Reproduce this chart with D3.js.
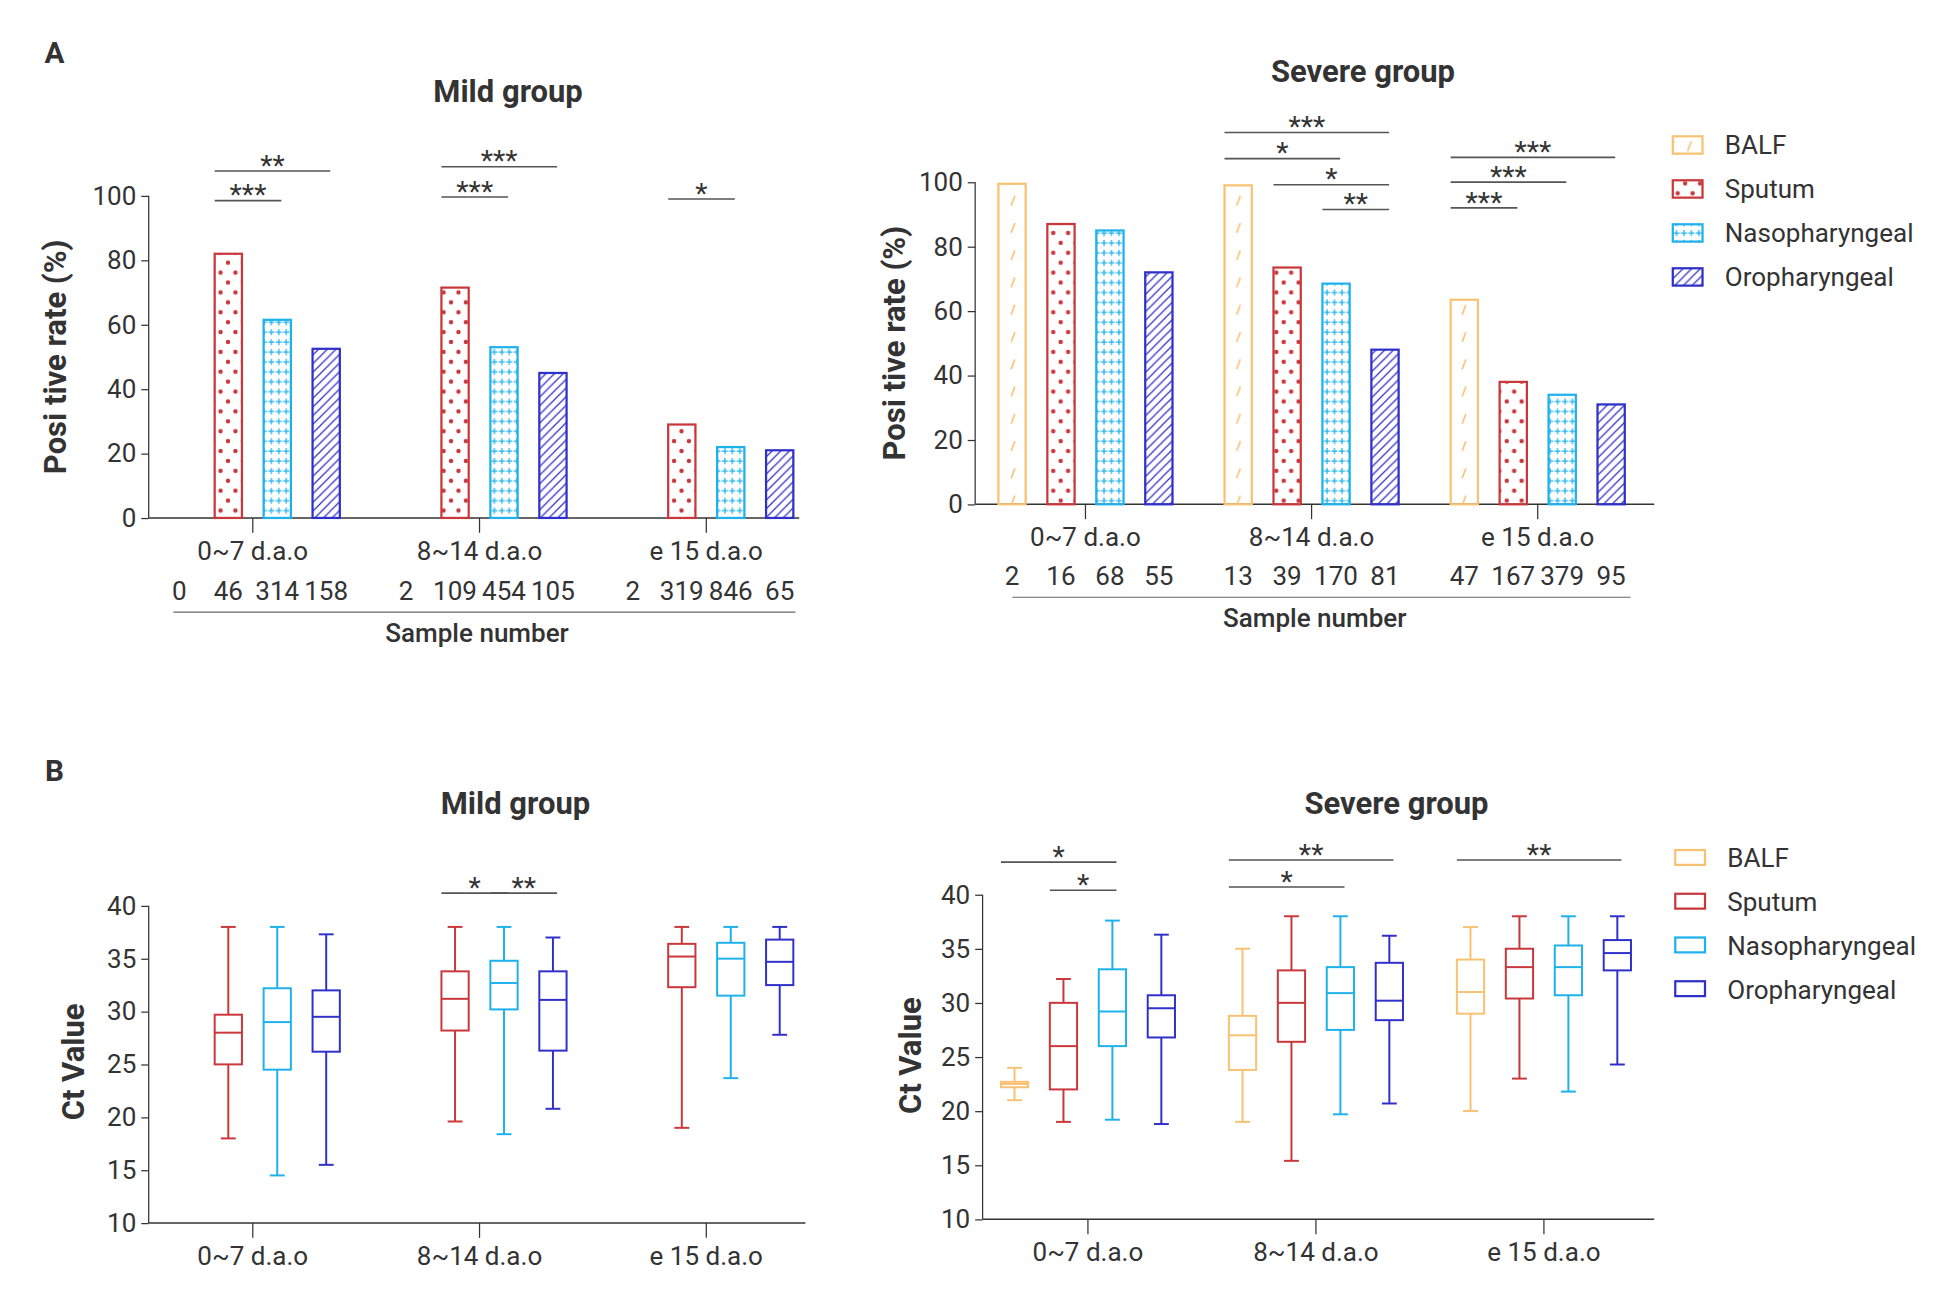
<!DOCTYPE html><html><head><meta charset="utf-8"><script src="https://cdn.jsdelivr.net/npm/d3@7"></script>
<style>body{margin:0;background:#fff}text{font-family:Roboto,"Open Sans",sans-serif;fill:#333}</style></head><body><svg id="c" width="1933" height="1307"></svg>
<script>
const categories=["0~7 d.a.o","8~14 d.a.o","e 15 d.a.o"];
const series=["BALF","Sputum","Nasopharyngeal","Oropharyngeal"];
const colors=["#f8c272","#c9373b","#1eb1ec","#2f30c9"];
const mildRate=[[0,82,61.5,52.5],[0,71.5,53,45],[0,29,22,21]];
const severeRate=[[99.5,87,85,72],[99,73.5,68.5,48],[63.5,38,34,31]];
const mildN=[["0","46","314","158"],["2","109","454","105"],["2","319","846","65"]];
const severeN=[["2","16","68","55"],["13","39","170","81"],["47","167","379","95"]];
const rateTicks=[0,20,40,60,80,100];
const ctTicks=[10,15,20,25,30,35,40];
const mildCt=[[null,[18,25,28,29.7,38],[14.5,24.5,29,32.2,38],[15.5,26.2,29.5,32,37.3]],
 [null,[19.6,28.2,31.2,33.8,38],[18.4,30.2,32.7,34.8,38],[20.8,26.3,31.1,33.8,37]],
 [null,[19,32.3,35.2,36.4,38],[23.7,31.5,35,36.5,38],[27.8,32.5,34.7,36.8,38]]];
const severeCt=[[[21,22.2,22.5,22.7,24],[19,22,26,30,32.2],[19.2,26,29.2,33.1,37.6],[18.8,26.8,29.5,30.7,36.3]],
 [[19,23.8,27,28.8,35],[15.4,26.4,30,33,38],[19.7,27.5,30.9,33.3,38],[20.7,28.4,30.2,33.7,36.2]],
 [[20,29,31,34,37],[23,30.4,33.3,35,38],[21.8,30.7,33.3,35.3,38],[24.3,33,34.6,35.8,38]]];
const sigMildA=[[0,1,3,107.7,"**"],[0,1,2,98.5,"***"],[1,1,3,109,"***"],[1,1,2,99.6,"***"],[2,1,2,99,"*"]];
const sigSevA=[[1,0,3,115.4,"***"],[1,0,2,107.3,"*"],[1,1,3,99.2,"*"],[1,2,3,91.5,"**"],[2,0,3,107.7,"***"],[2,0,2,100,"***"],[2,0,1,92,"***"]];
const sigMildB=[[1,1,2,41.2,"*"],[1,2,3,41.2,"**"]];
const sigSevB=[[0,0,2,43,"*"],[0,1,2,40.4,"*"],[1,0,3,43.2,"**"],[1,0,2,40.7,"*"],[2,0,3,43.2,"**"]];

const svg=d3.select("#c");
const defs=svg.append("defs");
function pat(id,w,h,fn){const p=defs.append("pattern").attr("id",id).attr("patternUnits","userSpaceOnUse").attr("width",w).attr("height",h);fn(p);}
pat("p0",14,22,p=>{p.append("path").attr("d","M4,12 L7,4").attr("stroke",colors[0]).attr("stroke-width",1.3);});
pat("p1",12,16,p=>{p.append("circle").attr("cx",4).attr("cy",4).attr("r",1.8).attr("fill",colors[1]);p.append("circle").attr("cx",10).attr("cy",12).attr("r",1.8).attr("fill",colors[1]);});
pat("p2",6,8,p=>{p.append("path").attr("d","M3,1.5V6.5M0.5,4H5.5").attr("stroke",colors[2]).attr("stroke-width",1);});
pat("p3",7,7,p=>{p.append("path").attr("d","M-1,8 L8,-1 M-1,1 L1,-1 M6,8 L8,6").attr("stroke",colors[3]).attr("stroke-width",1);});

const g=svg.append("g").attr("transform","scale(1.2391)");
function txt(x,y,s,o={}){return g.append("text").attr("x",x).attr("y",y).attr("text-anchor",o.a||"middle").attr("font-size",o.fs||20).attr("font-weight",o.fw||400).text(s);}
function vtxt(x,y,s,fs){g.append("text").attr("transform",`translate(${x},${y}) rotate(-90)`).attr("text-anchor","middle").attr("font-size",fs).attr("font-weight",700).text(s);}

function panel(o){
  const y=d3.scaleLinear().domain(o.dom).range([o.y0,o.y1]);
  const x0=d3.scalePoint().domain(categories).range(o.cx);
  const slot=(gi,si)=>x0(categories[gi])+(si-1.5)*39.5;
  g.append("g").attr("transform",`translate(${o.ax},0)`).call(d3.axisLeft(y).tickValues(o.ticks).tickSize(6).tickPadding(4))
   .call(a=>{a.selectAll("text").attr("font-size",21).attr("fill","#333");a.selectAll("line,path").attr("stroke","#333");a.select("path").attr("d",`M0,${o.y0}V${y(o.dom[1])}`);});
  g.append("line").attr("x1",o.ax).attr("x2",o.xend).attr("y1",o.y0).attr("y2",o.y0).attr("stroke","#333").attr("stroke-width",1.3);
  categories.forEach(c=>g.append("line").attr("x1",x0(c)).attr("x2",x0(c)).attr("y1",o.y0).attr("y2",o.y0+12).attr("stroke","#333"));
  return {y,x0,slot};
}
function sig(P,list,bw){
  list.forEach(([gi,a,b,v,s])=>{
    const x1=P.slot(gi,a)-bw*0.5, x2=P.slot(gi,b)+bw*0.15, yy=P.y(v);
    g.append("line").attr("x1",x1).attr("x2",x2).attr("y1",yy).attr("y2",yy).attr("stroke","#555").attr("stroke-width",1.3);
    g.append("text").attr("x",(x1+x2)/2).attr("y",yy+3).attr("text-anchor","middle").attr("font-size",23).attr("fill","#111").text(s);
  });
}
function bars(P,data,from){
  data.forEach((row,gi)=>row.forEach((v,si)=>{if(si<from)return;
    const xc=P.slot(gi,si);
    g.append("rect").attr("x",xc-11).attr("width",22).attr("y",P.y(v)).attr("height",P.y(0)-P.y(v))
     .attr("fill",`url(#p${si})`).attr("stroke",colors[si]).attr("stroke-width",1.8);}));
}
function boxes(P,data){
  data.forEach((row,gi)=>row.forEach((d,si)=>{if(!d)return;
    const xc=P.slot(gi,si),c=colors[si],w=11,cw=6;
    const L=(x1,y1,x2,y2)=>g.append("line").attr("x1",x1).attr("x2",x2).attr("y1",y1).attr("y2",y2).attr("stroke",c).attr("stroke-width",1.6);
    L(xc,P.y(d[0]),xc,P.y(d[1]));L(xc,P.y(d[3]),xc,P.y(d[4]));
    L(xc-cw,P.y(d[0]),xc+cw,P.y(d[0]));L(xc-cw,P.y(d[4]),xc+cw,P.y(d[4]));
    g.append("rect").attr("x",xc-w).attr("width",2*w).attr("y",P.y(d[3])).attr("height",P.y(d[1])-P.y(d[3])).attr("fill","none").attr("stroke",c).attr("stroke-width",1.6);
    L(xc-w,P.y(d[2]),xc+w,P.y(d[2]));
  }));
}
function legend(x,y0,dy,box){
  series.forEach((s,i)=>{const yy=y0+i*dy;
    g.append("rect").attr("x",x).attr("y",yy-7).attr("width",24).attr("height",box?12:14).attr("fill",box?"none":`url(#p${i})`).attr("stroke",colors[i]).attr("stroke-width",1.8);
    txt(x+42,yy+7,s,{a:"start",fs:21});});
}
txt(44,51,"A",{fs:24,fw:700});txt(410,82,"Mild group",{fs:25,fw:700});
const A1=panel({dom:[0,100],y0:418,y1:158,ax:120,xend:645,cx:[204,570],ticks:rateTicks});
bars(A1,mildRate,1);sig(A1,sigMildA,22);
vtxt(53,288,"Posi tive  rate  (%)",25);
categories.forEach((c,i)=>{txt(A1.x0(c),452,c,{fs:21});mildN[i].forEach((n,j)=>txt(A1.slot(i,j),484,n,{fs:21}));});
g.append("line").attr("x1",140).attr("x2",642).attr("y1",494).attr("y2",494).attr("stroke","#666");
txt(385,518,"Sample  number",{fs:21,fw:500});
txt(1100,66,"Severe group",{fs:25,fw:700});
const A2=panel({dom:[0,100],y0:407,y1:147,ax:787,xend:1335,cx:[876,1241],ticks:rateTicks});
bars(A2,severeRate,0);sig(A2,sigSevA,22);
vtxt(730,277,"Posi tive  rate  (%)",25);
categories.forEach((c,i)=>{txt(A2.x0(c),441,c,{fs:21});severeN[i].forEach((n,j)=>txt(A2.slot(i,j),472,n,{fs:21}));});
g.append("line").attr("x1",817).attr("x2",1316).attr("y1",482).attr("y2",482).attr("stroke","#666");
txt(1061,506,"Sample  number",{fs:21,fw:500});
legend(1350,117,35.5,false);
txt(44,630,"B",{fs:24,fw:700});txt(416,657,"Mild group",{fs:25,fw:700});
const B1=panel({dom:[10,40],y0:987,y1:731,ax:120,xend:650,cx:[204,570],ticks:ctTicks});
boxes(B1,mildCt);sig(B1,sigMildB,22);
vtxt(68,857,"Ct  Value",25);
categories.forEach(c=>txt(B1.x0(c),1021,c,{fs:21}));
txt(1127,657,"Severe group",{fs:25,fw:700});
const B2=panel({dom:[10,40],y0:984,y1:722,ax:793,xend:1335,cx:[878,1246],ticks:ctTicks});
boxes(B2,severeCt);sig(B2,sigSevB,22);
vtxt(743,852,"Ct  Value",25);
categories.forEach(c=>txt(B2.x0(c),1018,c,{fs:21}));
legend(1352,693,35.3,true);
</script></body></html>
